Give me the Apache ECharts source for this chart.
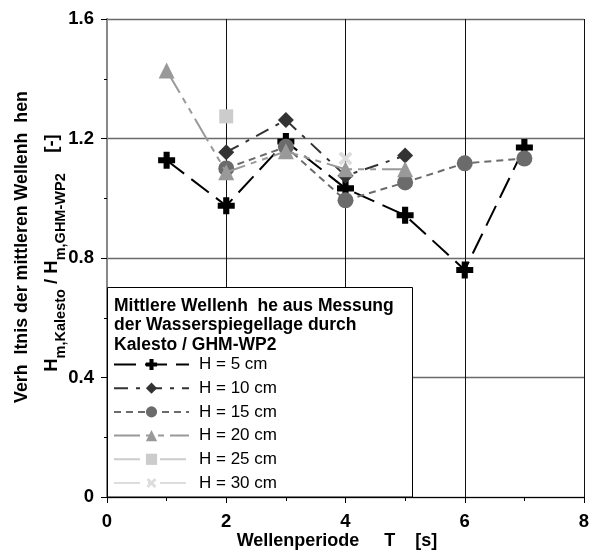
<!DOCTYPE html>
<html><head><meta charset="utf-8">
<script src="https://cdn.jsdelivr.net/npm/echarts@6/dist/echarts.min.js"></script>
<style>html,body{margin:0;padding:0;background:#fff}#c{width:596px;height:554px}</style>
</head><body><div id="c"></div>
<script>
// ---- data ----
const xTicks = [0, 2, 4, 6, 8];
const yTicks = [0, 0.4, 0.8, 1.2, 1.6];
const seriesNames = ['H = 5 cm', 'H = 10 cm', 'H = 15 cm', 'H = 20 cm', 'H = 25 cm', 'H = 30 cm'];
const periods5 = [1, 2, 3, 4, 5, 6, 7];
const values5 = [1.127, 0.975, 1.19, 1.033, 0.943, 0.76, 1.17];
const periods10 = [2, 3, 4, 5];
const values10 = [1.154, 1.262, 1.075, 1.143];
const periods15 = [2, 3, 4, 5, 6, 7];
const values15 = [1.10, 1.172, 0.993, 1.053, 1.117, 1.133];
const periods20 = [1, 2, 3, 4, 5];
const values20 = [1.428, 1.087, 1.157, 1.097, 1.097];
const periods25 = [2];
const values25 = [1.274];
const periods30 = [4];
const values30 = [1.133];

const FONT = '"Liberation Sans", Arial, sans-serif';
const plusPath = 'path://M3.2,0h3.6v3.2h3.2v3.6h-3.2v3.2h-3.6v-3.2h-3.2v-3.6h3.2z';
const crossPath = 'path://M3.8,0h2.4v3.8h3.8v2.4h-3.8v3.8h-2.4v-3.8h-3.8v-2.4h3.8z';

function pairs(xs, ys) { return xs.map((x, i) => [x, ys[i]]); }

const styles = [
  {color: '#000000', dash: [22, 9], symbol: plusPath, size: 17, rot: 0},
  {color: '#333333', dash: [14, 8, 4, 8], symbol: 'diamond', size: 16, rot: 0},
  {color: '#6b6b6b', dash: [7, 5], symbol: 'circle', size: 16, rot: 0},
  {color: '#999999', dash: [26, 6, 6, 6, 6, 6], symbol: 'triangle', size: 16, rot: 0},
  {color: '#cccccc', dash: [26, 8, 4, 8], symbol: 'rect', size: 14, rot: 0},
  {color: '#dddddd', dash: [26, 8, 4, 8], symbol: crossPath, size: 16, rot: 45}
];
const dataSets = [
  pairs(periods5, values5), pairs(periods10, values10), pairs(periods15, values15),
  pairs(periods20, values20), pairs(periods25, values25), pairs(periods30, values30)
];

const series = seriesNames.map((n, i) => ({
  name: n, type: 'line', data: dataSets[i], xAxisIndex: 0, yAxisIndex: 0,
  symbol: styles[i].symbol, symbolSize: styles[i].size, symbolRotate: styles[i].rot,
  showAllSymbol: true,
  lineStyle: {color: styles[i].color, width: 2, type: styles[i].dash},
  itemStyle: {color: styles[i].color},
  z: 3 + i, animation: false
}));

const chart = echarts.init(document.getElementById('c'), null, {renderer: 'canvas'});
chart.setOption({
  animation: false,
  backgroundColor: '#fff',
  grid: {left: 107, right: 12, top: 19, bottom: 57, containLabel: false},
  xAxis: [{
    type: 'value', min: xTicks[0], max: xTicks[xTicks.length - 1], interval: 2,
    axisLine: {show: true, lineStyle: {color: '#000', width: 1}},
    axisTick: {show: true, length: 6, lineStyle: {color: '#000'}},
    minorTick: {show: true, splitNumber: 2, length: 4, lineStyle: {color: '#000'}},
    splitLine: {show: true, lineStyle: {color: '#111', width: 1}},
    axisLabel: {fontFamily: FONT, fontWeight: 'bold', fontSize: 18.5, color: '#000', margin: 15,
      formatter: v => String(v)}
  }, {
    type: 'value', position: 'top', min: 0, max: 8,
    axisLine: {show: true, lineStyle: {color: '#000', width: 1}},
    axisTick: {show: false}, axisLabel: {show: false}, splitLine: {show: false}
  }],
  yAxis: [{
    type: 'value', min: yTicks[0], max: yTicks[yTicks.length - 1], interval: 0.4,
    axisLine: {show: true, lineStyle: {color: '#000', width: 1}},
    axisTick: {show: true, length: 6, lineStyle: {color: '#000'}},
    minorTick: {show: true, splitNumber: 2, length: 3, lineStyle: {color: '#000'}},
    splitLine: {show: true, lineStyle: {color: '#6a6a6a', width: 1.3}},
    axisLabel: {fontFamily: FONT, fontWeight: 'bold', fontSize: 18.5, color: '#000', margin: 13,
      formatter: v => (v === 0 ? '0' : v.toFixed(1))}
  }, {
    type: 'value', position: 'right', min: 0, max: 1.6,
    axisLine: {show: true, lineStyle: {color: '#888', width: 2}},
    axisTick: {show: false}, axisLabel: {show: false}, splitLine: {show: false}
  }],
  legend: {
    show: true, orient: 'vertical', left: 113, top: 356, z: 120,
    itemWidth: 75, itemHeight: 14, itemGap: 6.7, padding: 0,
    data: seriesNames,
    textStyle: {fontFamily: FONT, fontSize: 17, color: '#000', padding: [0, 0, 0, 5]}
  },
  graphic: [
    {type: 'rect', z: 100, shape: {x: 107.5, y: 287.5, width: 305, height: 209.5},
     style: {fill: '#fff', stroke: '#000', lineWidth: 1}},
    {type: 'text', z: 101, x: 114, y: 296,
     style: {text: 'Mittlere Wellenh  he aus Messung\nder Wasserspiegellage durch\nKalesto / GHM-WP2',
       font: 'bold 17.5px ' + FONT, fill: '#000', lineHeight: 19.5, textVerticalAlign: 'top'}},
    {type: 'text', z: 101, x: 337, y: 541,
     style: {text: 'Wellenperiode     T    [s]', font: 'bold 18px ' + FONT, fill: '#000',
       textAlign: 'center', textVerticalAlign: 'middle'}},
    {type: 'text', z: 101, x: 22, y: 247, rotation: Math.PI / 2,
     style: {text: 'Verh  ltnis der mittleren Wellenh  hen', font: 'bold 17.8px ' + FONT, fill: '#000',
       textAlign: 'center', textVerticalAlign: 'middle'}},
    {type: 'text', z: 101, x: 52, y: 253, rotation: Math.PI / 2,
     style: {
       text: '{b|H}{s|m,Kalesto}{b| / H}{s|m,GHM-WP2}{b|    [-]}',
       textAlign: 'center', textVerticalAlign: 'middle',
       rich: {
         b: {font: 'bold 18.5px ' + FONT, fill: '#000', verticalAlign: 'middle', lineHeight: 32},
         s: {font: 'bold 14.5px ' + FONT, fill: '#000', verticalAlign: 'bottom', lineHeight: 32}
       }
     }}
  ],
  series: series
});
</script>
</body></html>
